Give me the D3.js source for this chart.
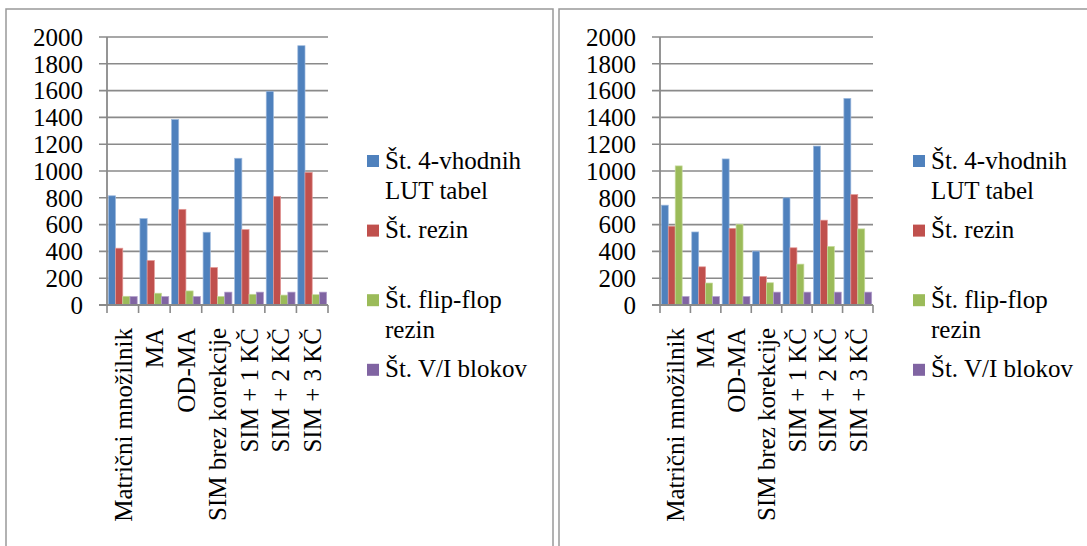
<!DOCTYPE html>
<html>
<head>
<meta charset="utf-8">
<script src="https://cdn.jsdelivr.net/npm/d3@7"></script>
<style>
  html, body { margin: 0; padding: 0; background: #fff; }
  svg { display: block; }
  text { font-family: "Liberation Serif", "Times New Roman", serif; fill: #000; }
</style>
</head>
<body>
<svg id="chart" width="1087" height="546"></svg>
<script>
// Categories (implementations) and axis ticks
const categories = ["Matrični množilnik", "MA", "OD-MA", "SIM brez korekcije", "SIM + 1 KČ", "SIM + 2 KČ", "SIM + 3 KČ"];
const yTicks = [0, 200, 400, 600, 800, 1000, 1200, 1400, 1600, 1800, 2000];

// Series names, as wrapped in the legend
const seriesLabels = [["Št. 4-vhodnih", "LUT tabel"], ["Št. rezin"], ["Št. flip-flop", "rezin"], ["Št. V/I blokov"]];
const seriesColors = ["#4F81BD", "#C0504D", "#9BBB59", "#8064A2"];
const seriesEdges  = ["#9DB9DD", "#E39A98", "#C6DA9C", "#B19FCB"];

// First panel values
const leftLUT    = [815, 645, 1385, 543, 1095, 1595, 1935];
const leftSlices = [424, 332, 714, 280, 563, 811, 990];
const leftFF     = [65, 88, 105, 64, 80, 74, 77];
const leftIO     = [63, 63, 63, 96, 96, 96, 96];

// Second panel values
const rightLUT    = [745, 545, 1090, 402, 800, 1186, 1542];
const rightSlices = [588, 285, 572, 213, 427, 633, 824];
const rightFF     = [1038, 164, 603, 166, 305, 437, 568];
const rightIO     = [63, 63, 63, 96, 96, 96, 96];

const panels = [
  { x: 6,   w: 547, axisX: 107, plotW: 221, legendX: 367, series: [leftLUT, leftSlices, leftFF, leftIO] },
  { x: 559, w: 560, axisX: 660, plotW: 213, legendX: 913, series: [rightLUT, rightSlices, rightFF, rightIO] }
];

const svg = d3.select("#chart");
const plotTop = 37, plotBottom = 305;
const gridColor = "#8A8A8A";
const fontSize = 25;
const fontFamily = "'Liberation Serif', 'Times New Roman', serif";

const y = d3.scaleLinear().domain([0, 2000]).range([plotBottom, plotTop]);

panels.forEach(p => {
  // panel frame
  svg.append("rect")
    .attr("x", p.x).attr("y", 9)
    .attr("width", p.w).attr("height", 600)
    .attr("fill", "none").attr("stroke", "#999").attr("stroke-width", 1.5);

  const g = svg.append("g")
    .attr("font-family", fontFamily)
    .attr("font-size", fontSize);

  const x = d3.scaleBand().domain(categories).range([p.axisX, p.axisX + p.plotW]);
  const inner = d3.scaleBand().domain(d3.range(4))
    .range([0, x.bandwidth()]).paddingOuter(0.19).paddingInner(0);

  // horizontal gridlines, extending left as tick marks
  g.selectAll(".grid").data(yTicks).join("line")
    .attr("x1", p.axisX - 8).attr("x2", p.axisX + p.plotW)
    .attr("y1", d => y(d)).attr("y2", d => y(d))
    .attr("stroke", gridColor).attr("stroke-width", 1.6);

  // y tick labels
  g.selectAll(".ylab").data(yTicks).join("text")
    .attr("x", p.axisX - 24).attr("y", d => y(d))
    .attr("dy", "0.35em")
    .attr("text-anchor", "end")
    .text(d => d);

  // bars
  p.series.forEach((vals, si) => {
    g.selectAll(".bar" + si).data(vals).join("rect")
      .attr("x", (d, i) => x(categories[i]) + inner(si))
      .attr("width", inner.bandwidth())
      .attr("y", d => y(d))
      .attr("height", d => y(0) - y(d))
      .attr("fill", seriesColors[si])
      .attr("stroke", seriesEdges[si])
      .attr("stroke-width", 0.7);
  });

  // axes lines
  g.append("line")
    .attr("x1", p.axisX).attr("x2", p.axisX)
    .attr("y1", plotTop).attr("y2", plotBottom)
    .attr("stroke", gridColor).attr("stroke-width", 1.8);
  g.append("line")
    .attr("x1", p.axisX - 8).attr("x2", p.axisX + p.plotW)
    .attr("y1", plotBottom).attr("y2", plotBottom)
    .attr("stroke", gridColor).attr("stroke-width", 1.8);

  // category boundary ticks
  const bounds = categories.map(c => x(c)).concat([p.axisX + p.plotW]);
  g.selectAll(".xtick").data(bounds).join("line")
    .attr("x1", d => d).attr("x2", d => d)
    .attr("y1", plotBottom).attr("y2", plotBottom + 8)
    .attr("stroke", gridColor).attr("stroke-width", 1.6);

  // rotated category labels
  g.selectAll(".xlab").data(categories).join("text")
    .attr("transform", d => `translate(${x(d) + x.bandwidth() / 2},328) rotate(-90)`)
    .attr("dy", "0.35em")
    .attr("text-anchor", "end")
    .text(d => d);

  // legend
  const lg = g.append("g");
  seriesLabels.forEach((lines, si) => {
    const cy = 161 + si * 69.6;
    lg.append("rect")
      .attr("x", p.legendX).attr("y", cy - 6)
      .attr("width", 12).attr("height", 12)
      .attr("fill", seriesColors[si]);
    const t = lg.append("text")
      .attr("x", p.legendX + 18).attr("y", cy + 7.5);
    lines.forEach((ln, li) => {
      t.append("tspan")
        .attr("x", p.legendX + 18)
        .attr("dy", li === 0 ? 0 : 30)
        .text(ln);
    });
  });
});
</script>
</body>
</html>
